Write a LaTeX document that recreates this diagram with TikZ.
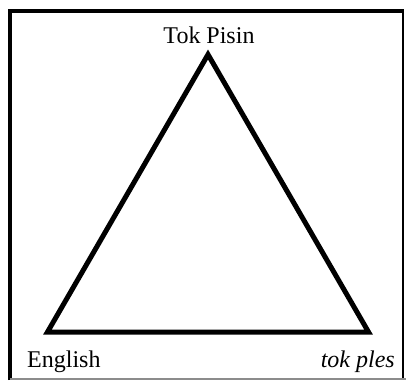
\documentclass[tikz,border=0pt]{standalone}
\usepackage{fontspec}
\setmainfont{Liberation Serif}
\begin{document}
\begin{tikzpicture}[x=1pt,y=-1pt,
  lbl/.style={inner sep=0pt,font=\fontsize{24}{28}\selectfont},
  tri/.style={line width=5pt,line join=miter}]
\useasboundingbox (0,0) rectangle (406,380);
% frame
\draw[line width=4pt] (10,380) -- (10,11) -- (404,11);
\draw[line width=2pt] (403,11) -- (403,380);
\draw[line width=1.5pt,black!45] (10,378.8) -- (406,378.8);
% triangle
\coordinate (top) at (208,54.5);
\coordinate (bl) at (47.5,332);
\coordinate (br) at (368.5,332);
\draw[tri] (top) -- (bl) -- (br) -- cycle;
% labels
\node[lbl,anchor=base] (tp) at (209,43) {Tok Pisin};
\node[lbl,anchor=base west] (en) at (27,367) {English};
\node[lbl,anchor=base east] (tpl) at (395,367) {\textit{tok ples}};
\end{tikzpicture}
\end{document}
